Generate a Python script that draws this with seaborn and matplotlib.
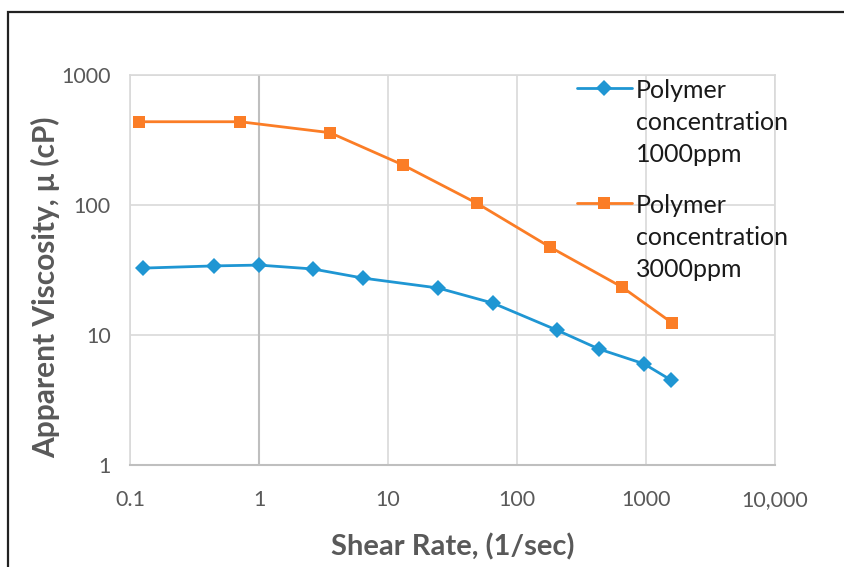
import pandas as pd
import numpy as np
import matplotlib.pyplot as plt
import seaborn as sns
from matplotlib.patches import Rectangle
from matplotlib.ticker import FixedLocator, FixedFormatter, NullLocator

# (log-log)
shear_1000 = [0.126, 0.448, 1.0, 2.62, 6.4, 24.4, 65, 204, 432, 965, 1563]
visc_1000 = [32.7, 34.0, 34.5, 32.2, 27.4, 23.0, 17.6, 10.9, 7.8, 6.0, 4.5]
shear_3000 = [0.117, 0.713, 3.55, 13.1, 49, 180, 651, 1592]
visc_3000 = [437, 437, 360, 203, 103, 47.5, 23.4, 12.4]

label_1000 = 'Polymer\nconcentration\n1000ppm'
label_3000 = 'Polymer\nconcentration\n3000ppm'
x_ticks = [0.1, 1, 10, 100, 1000, 10000]
x_labels = ['0.1', '1', '10', '100', '1000', '10,000']
y_ticks = [1, 10, 100, 1000]
y_labels = ['1', '10', '100', '1000']

df = pd.concat([
    pd.DataFrame({'shear': shear_1000, 'visc': visc_1000, 'serie': label_1000}),
    pd.DataFrame({'shear': shear_3000, 'visc': visc_3000, 'serie': label_3000}),
], ignore_index=True)

sns.set_style('white')
plt.rcParams['font.family'] = ['Lato', 'DejaVu Sans']

fig = plt.figure(figsize=(8.45, 5.67), dpi=100)
ax = fig.add_axes([130 / 845, 1 - 465 / 567, 645 / 845, 390 / 567])

renkler = {label_1000: '#1f96d3', label_3000: '#fb7d26'}
sns.lineplot(data=df, x='shear', y='visc', hue='serie', style='serie',
             palette=renkler, markers={label_1000: 'D', label_3000: 's'},
             dashes=False, sort=False, estimator=None, linewidth=2.0,
             markersize=8, markeredgewidth=0, ax=ax)
for line in ax.get_lines():
    if line.get_marker() == 's':
        line.set_markersize(9)

ax.set_xscale('log')
ax.set_yscale('log')
ax.set_xlim(0.1, 10000)
ax.set_ylim(1, 1000)

ax.xaxis.set_major_locator(FixedLocator(x_ticks))
ax.xaxis.set_major_formatter(FixedFormatter(x_labels))
ax.xaxis.set_minor_locator(NullLocator())
ax.yaxis.set_major_locator(FixedLocator(y_ticks))
ax.yaxis.set_major_formatter(FixedFormatter(y_labels))
ax.yaxis.set_minor_locator(NullLocator())

ax.grid(True, color='#d9d9d9', linewidth=1.2)
ax.axvline(1, color='#bfbfbf', linewidth=1.5, zorder=1)
for s in ['top', 'right', 'left']:
    ax.spines[s].set_color('#d9d9d9')
    ax.spines[s].set_linewidth(1.2)
ax.spines['bottom'].set_color('#bfbfbf')
ax.spines['bottom'].set_linewidth(1.5)

ax.tick_params(axis='both', length=0, labelsize=15.5, labelcolor='#595959')
ax.tick_params(axis='x', pad=18)
ax.tick_params(axis='y', pad=14)

ax.set_xlabel('Shear Rate, (1/sec)', fontsize=21, fontweight='bold',
              color='#595959', labelpad=17)
ax.set_ylabel('Apparent Viscosity, μ (cP)', fontsize=21.5, fontweight='bold',
              color='#595959')
ax.yaxis.set_label_coords(-0.108, 0.456)

handles, labels = ax.get_legend_handles_labels()
for h in handles:
    if h.get_marker() == 's':
        h.set_markersize(9)
leg = ax.legend(handles, labels, loc='upper left',
                bbox_to_anchor=(577 / 845, 1 - 79 / 567), bbox_transform=fig.transFigure,
                frameon=False, fontsize=18, handlelength=2.2, handletextpad=0.15,
                labelspacing=1.12, borderaxespad=0, borderpad=0)
for t in leg.get_texts():
    t.set_linespacing(1.47)
    t.set_color('#1a1a1a')
# handle next to the first text line, as in Excel
for col in leg._legend_handle_box.get_children():
    for row in col.get_children():
        row.align = 'top'

# outer frame of the original picture
fig.add_artist(Rectangle((8 / 845, -0.05), 1.2, 1.05 - 12 / 567,
                         transform=fig.transFigure, fill=False,
                         edgecolor='#222222', linewidth=1.6, clip_on=False))

plt.savefig('out.png', dpi=100)
plt.close()
